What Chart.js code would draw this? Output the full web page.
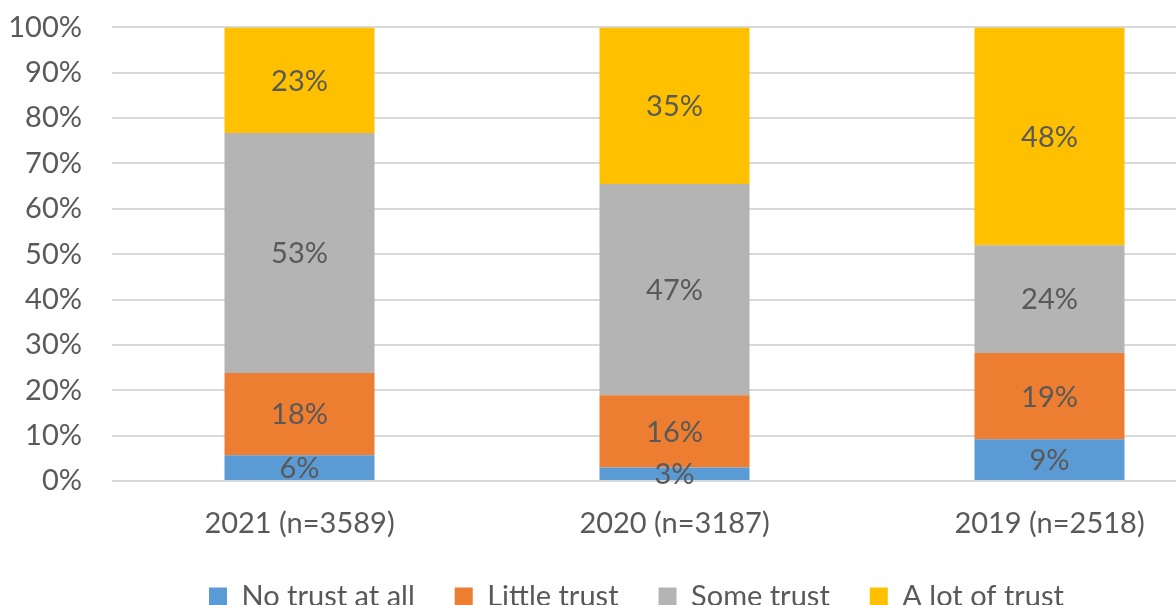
<!DOCTYPE html>
<html>
<head>
<meta charset="utf-8">
<script src="https://cdn.jsdelivr.net/npm/chart.js@4/dist/chart.umd.min.js"></script>
<style>
  html, body { margin: 0; padding: 0; background: #ffffff; overflow: hidden; width: 1176px; height: 605px; position: relative; }
  #wrap { position: absolute; left: 0; top: -20px; width: 1237px; height: 643px; }
</style>
</head>
<body>
<div id="wrap"><canvas id="c" width="1237" height="643"></canvas></div>
<script>
const categories = ["2021 (n=3589)", "2020 (n=3187)", "2019 (n=2518)"];
const seriesNames = ["No trust at all", "Little trust", "Some trust", "A lot of trust"];
const noTrust = [5.7, 3.0, 9.2];
const littleTrust = [18.1, 15.9, 19.0];
const someTrust = [52.9, 46.6, 23.8];
const aLotOfTrust = [23.3, 34.5, 48.0];
const yTicks = [0, 10, 20, 30, 40, 50, 60, 70, 80, 90, 100];
const colors = ["#5B9BD5", "#ED7D31", "#B4B4B4", "#FFC000"];

const FONT = "Lato";
const FS = 29;
const TEXT = "#595959";

const dataLabels = {
  id: "dataLabels",
  afterDatasetsDraw(chart) {
    const ctx = chart.ctx;
    ctx.save();
    ctx.font = FS + "px " + FONT;
    ctx.fillStyle = TEXT;
    ctx.textAlign = "center";
    ctx.textBaseline = "middle";
    chart.data.datasets.forEach((ds, i) => {
      const meta = chart.getDatasetMeta(i);
      meta.data.forEach((el, j) => {
        const v = ds.data[j];
        const y = (el.y + el.base) / 2;
        ctx.fillText(Math.round(v) + "%", el.x, y + 1);
      });
    });
    ctx.restore();
  }
};

const legendShift = {
  id: "legendShift",
  afterLayout(chart) {
    if (chart.legend) { chart.legend.left += 18; chart.legend.right += 18; }
  }
};

const seriesValues = [noTrust, littleTrust, someTrust, aLotOfTrust];

new Chart(document.getElementById("c"), {
  type: "bar",
  data: {
    labels: categories,
    datasets: seriesNames.map((n, i) => ({
      label: n,
      data: seriesValues[i],
      backgroundColor: colors[i],
      borderWidth: 0,
      categoryPercentage: 1.0,
      barPercentage: 0.4
    }))
  },
  options: {
    responsive: false,
    animation: false,
    devicePixelRatio: 1,
    layout: { padding: { left: 0, right: 0, top: 6, bottom: 2 } },
    plugins: {
      legend: {
        position: "bottom",
        labels: {
          font: { family: FONT, size: FS },
          color: TEXT,
          boxWidth: 18,
          boxHeight: 18,
          padding: 40
        }
      },
      tooltip: { enabled: false }
    },
    scales: {
      x: {
        stacked: true,
        grid: { display: false, drawTicks: false },
        border: { display: false },
        ticks: { font: { family: FONT, size: FS }, color: TEXT, padding: 25 },
        afterFit(scale) { scale.height = 61; }
      },
      y: {
        stacked: true,
        min: 0,
        max: 100,
        afterBuildTicks(scale) { scale.ticks = yTicks.map(v => ({ value: v })); },
        grid: { color: "#D9D9D9", lineWidth: 2, drawTicks: false },
        border: { display: false },
        ticks: {
          font: { family: FONT, size: FS },
          color: TEXT,
          padding: 30,
          callback: v => v + "%"
        },
        afterFit(scale) { scale.width = 112; }
      }
    }
  },
  plugins: [dataLabels, legendShift]
});
</script>
</body>
</html>
